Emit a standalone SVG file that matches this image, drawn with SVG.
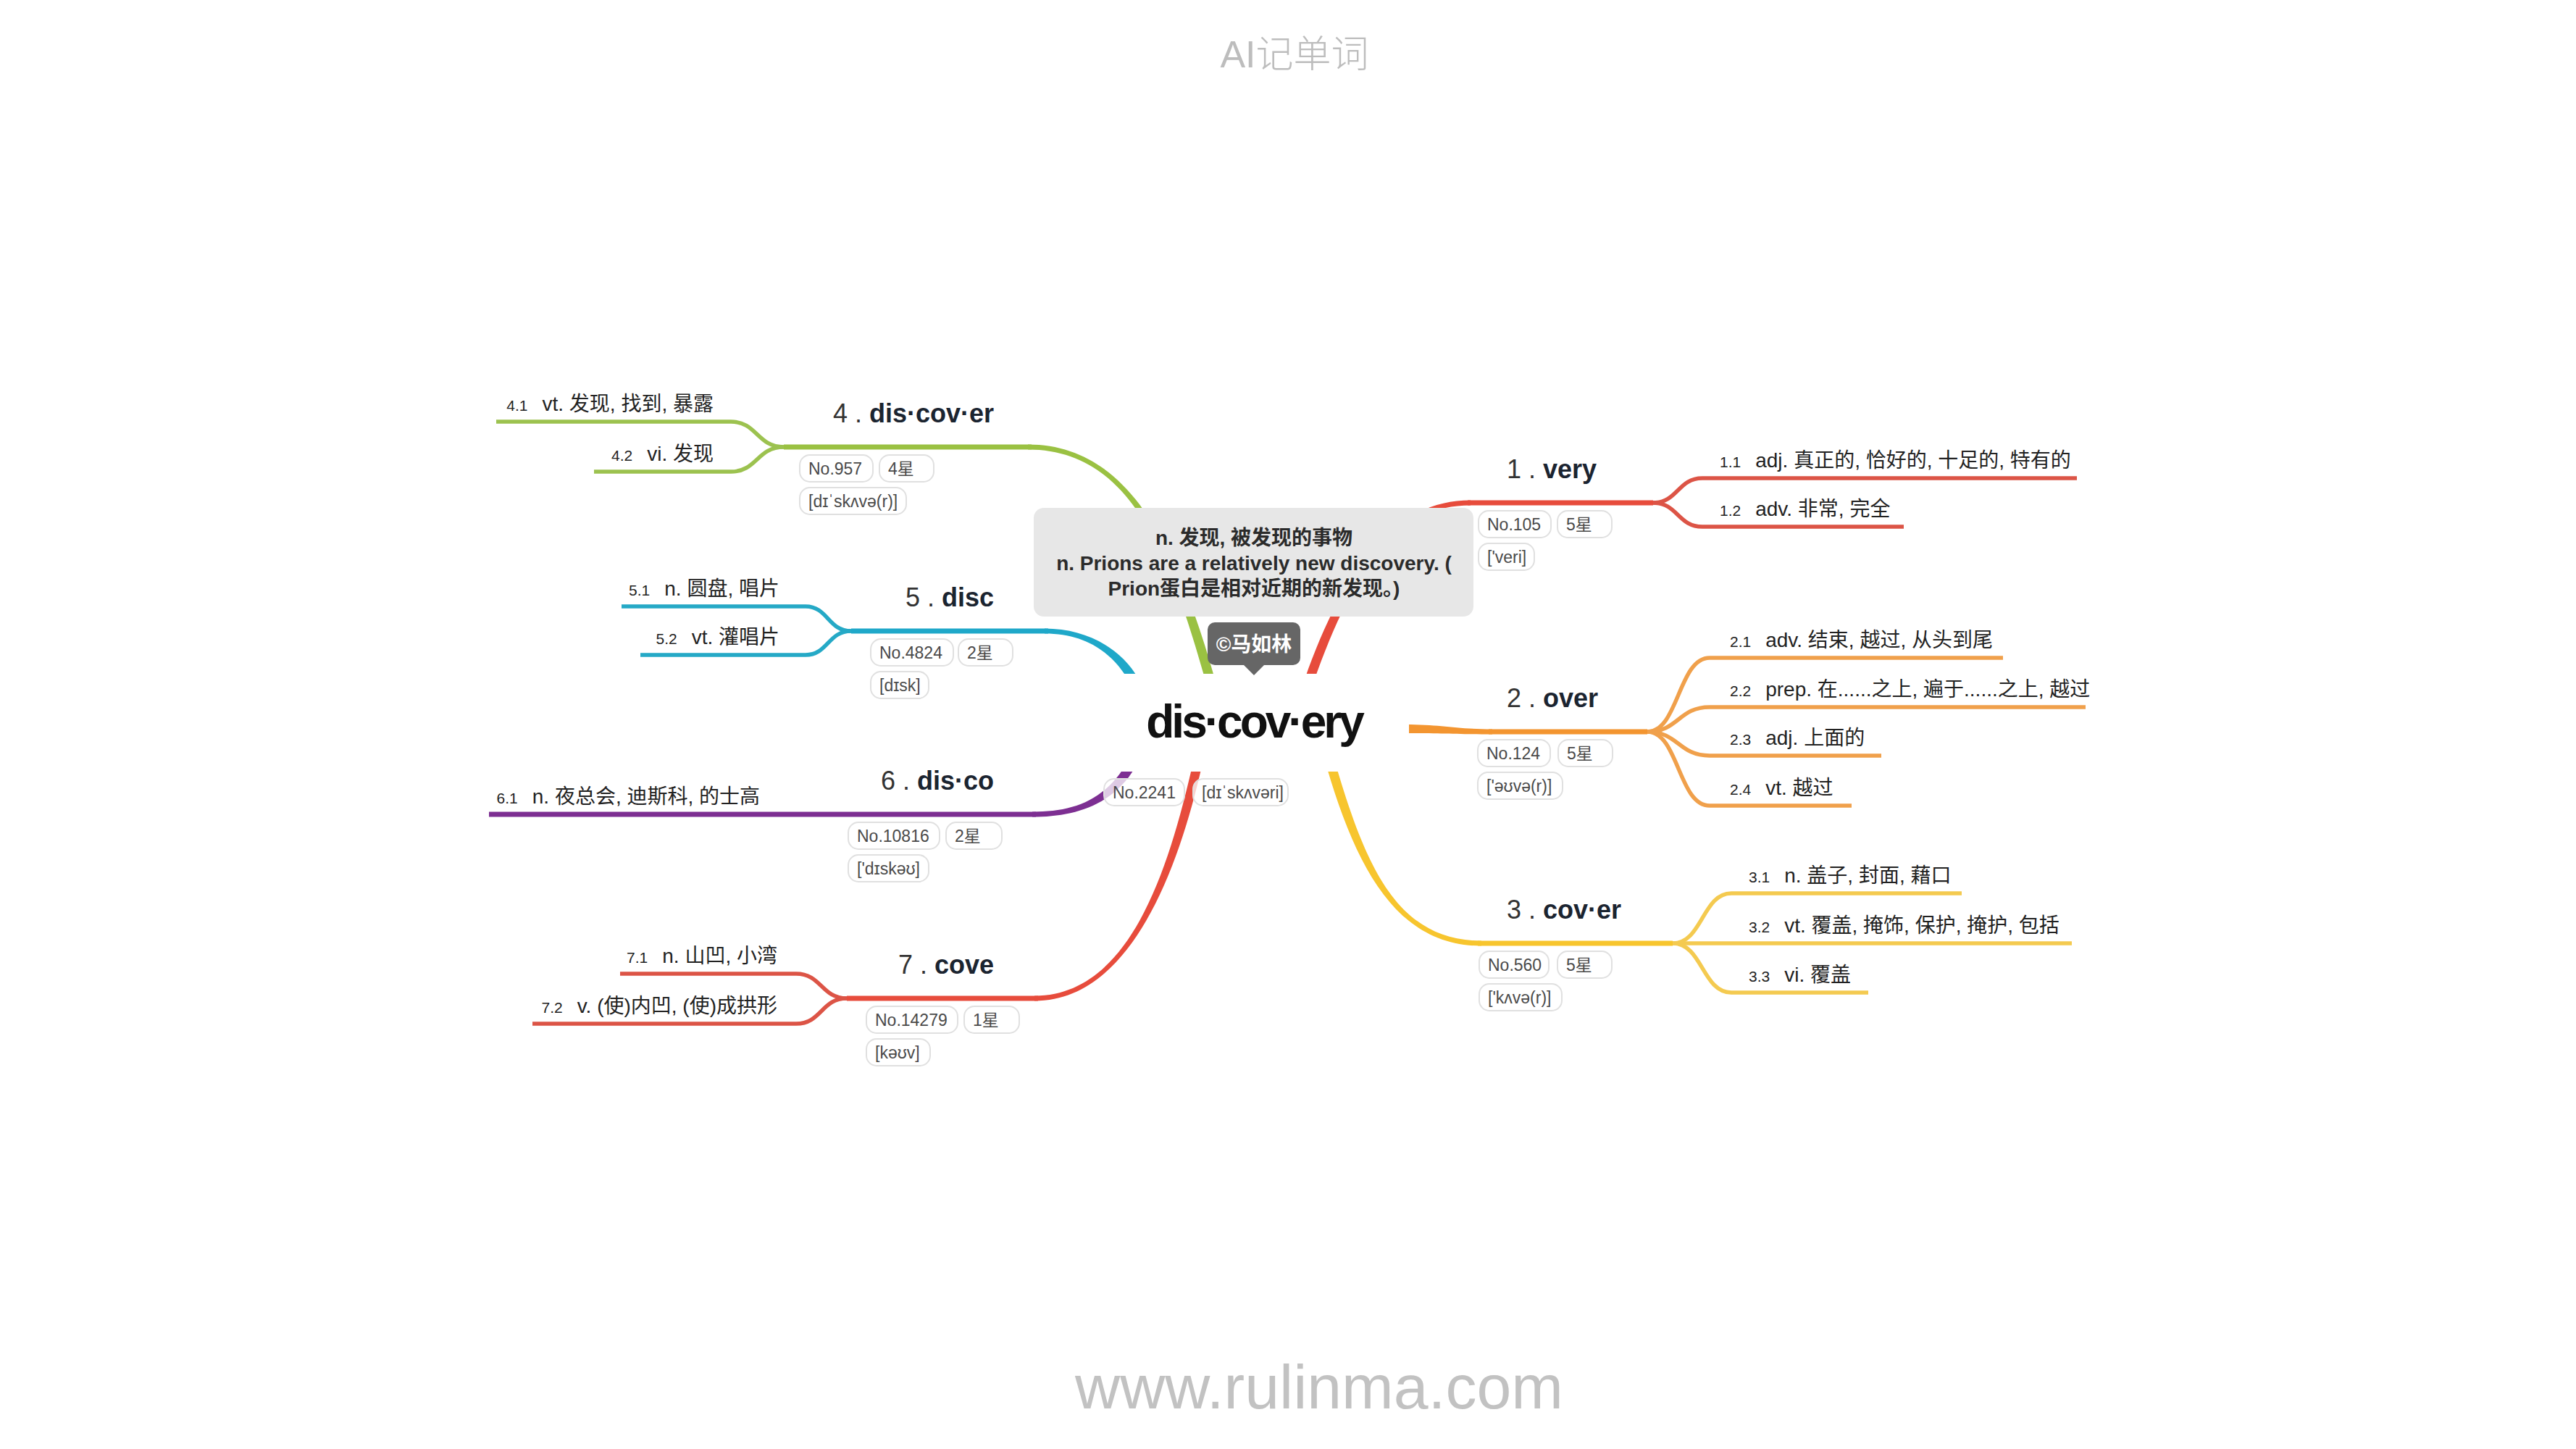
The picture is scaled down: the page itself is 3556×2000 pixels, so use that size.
<svg xmlns="http://www.w3.org/2000/svg" width="3556" height="2000" viewBox="0 0 3556 2000">
<style>
text { font-family: "Liberation Sans", "Noto Sans CJK SC", sans-serif; }
.hdr { font-size: 52px; fill: #bdbdbd; text-anchor: middle; font-weight: 300; }
.ftr { font-size: 86px; fill: #c2c2c2; text-anchor: middle; }
.ttl { font-size: 36px; fill: #1b2430; }
.ttl .n { font-weight: normal; fill: #333; }
.ttl .w { font-weight: bold; }
.end { text-anchor: end; }
.lbl { font-size: 28px; fill: #222; }
.lbl .n { font-size: 21px; }
.pill rect { fill: #fff; fill-opacity: 0.75; stroke: #e0e0e0; stroke-width: 2; }
.pill text { font-size: 23px; fill: #4a4a4a; }
.main { fill: none; stroke-width: 7; }
.sub { fill: none; stroke-width: 5.5; }
.red { stroke: #e74c3c; } .redf { fill: #e74c3c; } .reds { stroke: #dc5446; }
.org { stroke: #f39530; } .orgf { fill: #f39530; } .orgs { stroke: #f0a04b; }
.yel { stroke: #f7c52e; } .yelf { fill: #f7c52e; } .yels { stroke: #f4ca50; }
.grn { stroke: #9ac142; } .grnf { fill: #9ac142; } .grns { stroke: #9cc24f; }
.tea { stroke: #1fa8c9; } .teaf { fill: #1fa8c9; } .teas { stroke: #25a9c6; }
.pur { stroke: #7d2f92; } .purf { fill: #7d2f92; }
</style>

<g id="connectors">
  <!-- 1 very -->
  <path class="redf" d="M1813.1,942.2 C1876.1,762.2 1940,697.5 2030,697.5 L2030,690.5 C1940,690.5 1863.9,757.9 1800.9,937.9 Z"/>
  <path class="main red" d="M2026,694 L2282,694"/>
  <path class="sub reds" d="M2282,694 C2316,694 2316,660 2350,660 L2867,660"/>
  <path class="sub reds" d="M2282,694 C2316,694 2316,727 2350,727 L2628,727"/>
  <!-- 2 over -->
  <path class="orgf" d="M1940,1000 C1990,1000 2010,1006.5 2060,1006.5 L2060,1013.5 C2010,1013.5 1990,1012 1940,1012 Z"/>
  <path class="main org" d="M2055,1010 L2274,1010"/>
  <path class="sub orgs" d="M2274,1010 C2317,1010 2317,908 2360,908 L2765,908"/>
  <path class="sub orgs" d="M2274,1010 C2317,1010 2317,976 2360,976 L2879,976"/>
  <path class="sub orgs" d="M2274,1010 C2317,1010 2317,1043 2360,1043 L2597,1043"/>
  <path class="sub orgs" d="M2274,1010 C2317,1010 2317,1112 2360,1112 L2556,1112"/>
  <!-- 3 cover -->
  <path class="yelf" d="M1831.8,1059.9 C1873.8,1201.9 1930,1305.5 2045,1305.5 L2045,1298.5 C1930,1298.5 1886.2,1198.2 1844.2,1056.2 Z"/>
  <path class="main yel" d="M2040,1302 L2309,1302"/>
  <path class="sub yels" d="M2309,1302 C2350,1302 2350,1233 2390,1233 L2708,1233"/>
  <path class="sub yels" d="M2309,1302 L2860,1302"/>
  <path class="sub yels" d="M2309,1302 C2350,1302 2350,1370 2390,1370 L2579,1370"/>
  <!-- 4 discover -->
  <path class="grnf" d="M1677.3,938.2 C1626.3,758.2 1560,613.5 1419,613.5 L1419,620.5 C1560,620.5 1613.8,761.8 1664.8,941.8 Z"/>
  <path class="main grn" d="M1424,617 L1082,617"/>
  <path class="sub grns" d="M1082,617 C1045,617 1045,582 1009,582 L685,582"/>
  <path class="sub grns" d="M1082,617 C1045,617 1045,651 1009,651 L820,651"/>
  <!-- 5 disc -->
  <path class="teaf" d="M1571.6,936.8 C1547.6,894.8 1500,867.5 1442,867.5 L1442,874.5 C1500,874.5 1536.4,901.2 1560.4,943.2 Z"/>
  <path class="main tea" d="M1447,871 L1175,871"/>
  <path class="sub teas" d="M1175,871 C1143,871 1143,837 1112,837 L858,837"/>
  <path class="sub teas" d="M1175,871 C1143,871 1143,904 1112,904 L884,904"/>
  <!-- 6 disco -->
  <path class="purf" d="M1556.4,1051.7 C1524.4,1106.7 1480,1120.5 1425,1120.5 L1425,1127.5 C1480,1127.5 1535.6,1113.3 1567.6,1058.3 Z"/>
  <path class="main pur" d="M1430,1124 L675,1124"/>
  <!-- 7 cove -->
  <path class="redf" d="M1646.7,1053.6 C1613.7,1198.6 1560,1374.5 1428,1374.5 L1428,1381.5 C1560,1381.5 1626.3,1201.4 1659.3,1056.4 Z"/>
  <path class="main red" d="M1433,1378 L1169,1378"/>
  <path class="sub reds" d="M1169,1378 C1134,1378 1134,1344 1099,1344 L856,1344"/>
  <path class="sub reds" d="M1169,1378 C1134,1378 1134,1413 1099,1413 L735,1413"/>
</g>

<g id="center">
  <rect x="1530" y="930" width="415" height="135" fill="#fff"/>
  <text x="1731" y="1018" font-size="64" font-weight="bold" fill="#111" text-anchor="middle" letter-spacing="-4">dis·cov·ery</text>
  <g class="pill">
    <rect x="1524" y="1075" width="111" height="37" rx="14"/><text x="1536" y="1102">No.2241</text>
    <rect x="1647" y="1075" width="131" height="37" rx="14"/><text x="1659" y="1102">[dɪˈskʌvəri]</text>
  </g>
</g>

<g id="tooltip">
  <rect x="1427" y="701" width="607" height="150" rx="14" fill="#e7e7e7"/>
  <g font-size="28" font-weight="bold" fill="#2b2b2b" text-anchor="middle">
    <text x="1731" y="752">n. 发现, 被发现的事物</text>
    <text x="1731" y="787">n. Prions are a relatively new discovery. (</text>
    <text x="1731" y="822">Prion蛋白是相对近期的新发现。)</text>
  </g>
</g>

<g id="badge">
  <rect x="1667" y="859" width="128" height="59" rx="10" fill="#666"/>
  <path d="M1716,917 L1746,917 L1731,932 Z" fill="#666"/>
  <text x="1731" y="899" font-size="28" font-weight="bold" fill="#fff" text-anchor="middle">©马如林</text>
</g>

<g id="node-1">
  <text class="ttl" x="2080" y="660"><tspan class="n">1 . </tspan><tspan class="w">very</tspan></text>
  <g class="pill">
    <rect x="2041" y="705" width="100" height="37" rx="14"/><text x="2053" y="732">No.105</text>
    <rect x="2150" y="705" width="75" height="37" rx="14"/><text x="2162" y="732">5星</text>
    <rect x="2041" y="750" width="77" height="37" rx="14"/><text x="2053" y="777">['veri]</text>
  </g>
</g>
<g id="node-1-1"><text class="lbl" x="2374" y="645"><tspan class="n">1.1</tspan><tspan dx="20">adj. 真正的, 恰好的, 十足的, 特有的</tspan></text></g>
<g id="node-1-2"><text class="lbl" x="2374" y="712"><tspan class="n">1.2</tspan><tspan dx="20">adv. 非常, 完全</tspan></text></g>

<g id="node-2">
  <text class="ttl" x="2080" y="976"><tspan class="n">2 . </tspan><tspan class="w">over</tspan></text>
  <g class="pill">
    <rect x="2040" y="1021" width="100" height="37" rx="14"/><text x="2052" y="1048">No.124</text>
    <rect x="2151" y="1021" width="75" height="37" rx="14"/><text x="2163" y="1048">5星</text>
    <rect x="2040" y="1066" width="117" height="37" rx="14"/><text x="2052" y="1093">['əʊvə(r)]</text>
  </g>
</g>
<g id="node-2-1"><text class="lbl" x="2388" y="893"><tspan class="n">2.1</tspan><tspan dx="20">adv. 结束, 越过, 从头到尾</tspan></text></g>
<g id="node-2-2"><text class="lbl" x="2388" y="961"><tspan class="n">2.2</tspan><tspan dx="20">prep. 在......之上, 遍于......之上, 越过</tspan></text></g>
<g id="node-2-3"><text class="lbl" x="2388" y="1028"><tspan class="n">2.3</tspan><tspan dx="20">adj. 上面的</tspan></text></g>
<g id="node-2-4"><text class="lbl" x="2388" y="1097"><tspan class="n">2.4</tspan><tspan dx="20">vt. 越过</tspan></text></g>

<g id="node-3">
  <text class="ttl" x="2080" y="1268"><tspan class="n">3 . </tspan><tspan class="w">cov·er</tspan></text>
  <g class="pill">
    <rect x="2042" y="1313" width="96" height="37" rx="14"/><text x="2054" y="1340">No.560</text>
    <rect x="2150" y="1313" width="75" height="37" rx="14"/><text x="2162" y="1340">5星</text>
    <rect x="2042" y="1358" width="114" height="37" rx="14"/><text x="2054" y="1385">['kʌvə(r)]</text>
  </g>
</g>
<g id="node-3-1"><text class="lbl" x="2414" y="1218"><tspan class="n">3.1</tspan><tspan dx="20">n. 盖子, 封面, 藉口</tspan></text></g>
<g id="node-3-2"><text class="lbl" x="2414" y="1287"><tspan class="n">3.2</tspan><tspan dx="20">vt. 覆盖, 掩饰, 保护, 掩护, 包括</tspan></text></g>
<g id="node-3-3"><text class="lbl" x="2414" y="1355"><tspan class="n">3.3</tspan><tspan dx="20">vi. 覆盖</tspan></text></g>

<g id="node-4">
  <text class="ttl end" x="1372" y="583"><tspan class="n">4 . </tspan><tspan class="w">dis·cov·er</tspan></text>
  <g class="pill">
    <rect x="1104" y="628" width="101" height="37" rx="14"/><text x="1116" y="655">No.957</text>
    <rect x="1214" y="628" width="75" height="37" rx="14"/><text x="1226" y="655">4星</text>
    <rect x="1104" y="673" width="147" height="37" rx="14"/><text x="1116" y="700">[dɪˈskʌvə(r)]</text>
  </g>
</g>
<g id="node-4-1"><text class="lbl end" x="985" y="567"><tspan class="n">4.1</tspan><tspan dx="20">vt. 发现, 找到, 暴露</tspan></text></g>
<g id="node-4-2"><text class="lbl end" x="985" y="636"><tspan class="n">4.2</tspan><tspan dx="20">vi. 发现</tspan></text></g>

<g id="node-5">
  <text class="ttl end" x="1372" y="837"><tspan class="n">5 . </tspan><tspan class="w">disc</tspan></text>
  <g class="pill">
    <rect x="1202" y="882" width="114" height="37" rx="14"/><text x="1214" y="909">No.4824</text>
    <rect x="1323" y="882" width="75" height="37" rx="14"/><text x="1335" y="909">2星</text>
    <rect x="1202" y="927" width="80" height="37" rx="14"/><text x="1214" y="954">[dɪsk]</text>
  </g>
</g>
<g id="node-5-1"><text class="lbl end" x="1076" y="822"><tspan class="n">5.1</tspan><tspan dx="20">n. 圆盘, 唱片</tspan></text></g>
<g id="node-5-2"><text class="lbl end" x="1076" y="889"><tspan class="n">5.2</tspan><tspan dx="20">vt. 灌唱片</tspan></text></g>

<g id="node-6">
  <text class="ttl end" x="1372" y="1090"><tspan class="n">6 . </tspan><tspan class="w">dis·co</tspan></text>
  <g class="pill">
    <rect x="1171" y="1135" width="126" height="37" rx="14"/><text x="1183" y="1162">No.10816</text>
    <rect x="1306" y="1135" width="77" height="37" rx="14"/><text x="1318" y="1162">2星</text>
    <rect x="1171" y="1180" width="111" height="37" rx="14"/><text x="1183" y="1207">['dɪskəʊ]</text>
  </g>
</g>
<g id="node-6-1"><text class="lbl end" x="1049" y="1109"><tspan class="n">6.1</tspan><tspan dx="20">n. 夜总会, 迪斯科, 的士高</tspan></text></g>

<g id="node-7">
  <text class="ttl end" x="1372" y="1344"><tspan class="n">7 . </tspan><tspan class="w">cove</tspan></text>
  <g class="pill">
    <rect x="1196" y="1389" width="126" height="37" rx="14"/><text x="1208" y="1416">No.14279</text>
    <rect x="1331" y="1389" width="76" height="37" rx="14"/><text x="1343" y="1416">1星</text>
    <rect x="1196" y="1434" width="88" height="37" rx="14"/><text x="1208" y="1461">[kəʊv]</text>
  </g>
</g>
<g id="node-7-1"><text class="lbl end" x="1073" y="1329"><tspan class="n">7.1</tspan><tspan dx="20">n. 山凹, 小湾</tspan></text></g>
<g id="node-7-2"><text class="lbl end" x="1073" y="1398"><tspan class="n">7.2</tspan><tspan dx="20">v. (使)内凹, (使)成拱形</tspan></text></g>

<text class="hdr" x="1787" y="93">AI记单词</text>
<text class="ftr" x="1821" y="1944">www.rulinma.com</text>
</svg>
